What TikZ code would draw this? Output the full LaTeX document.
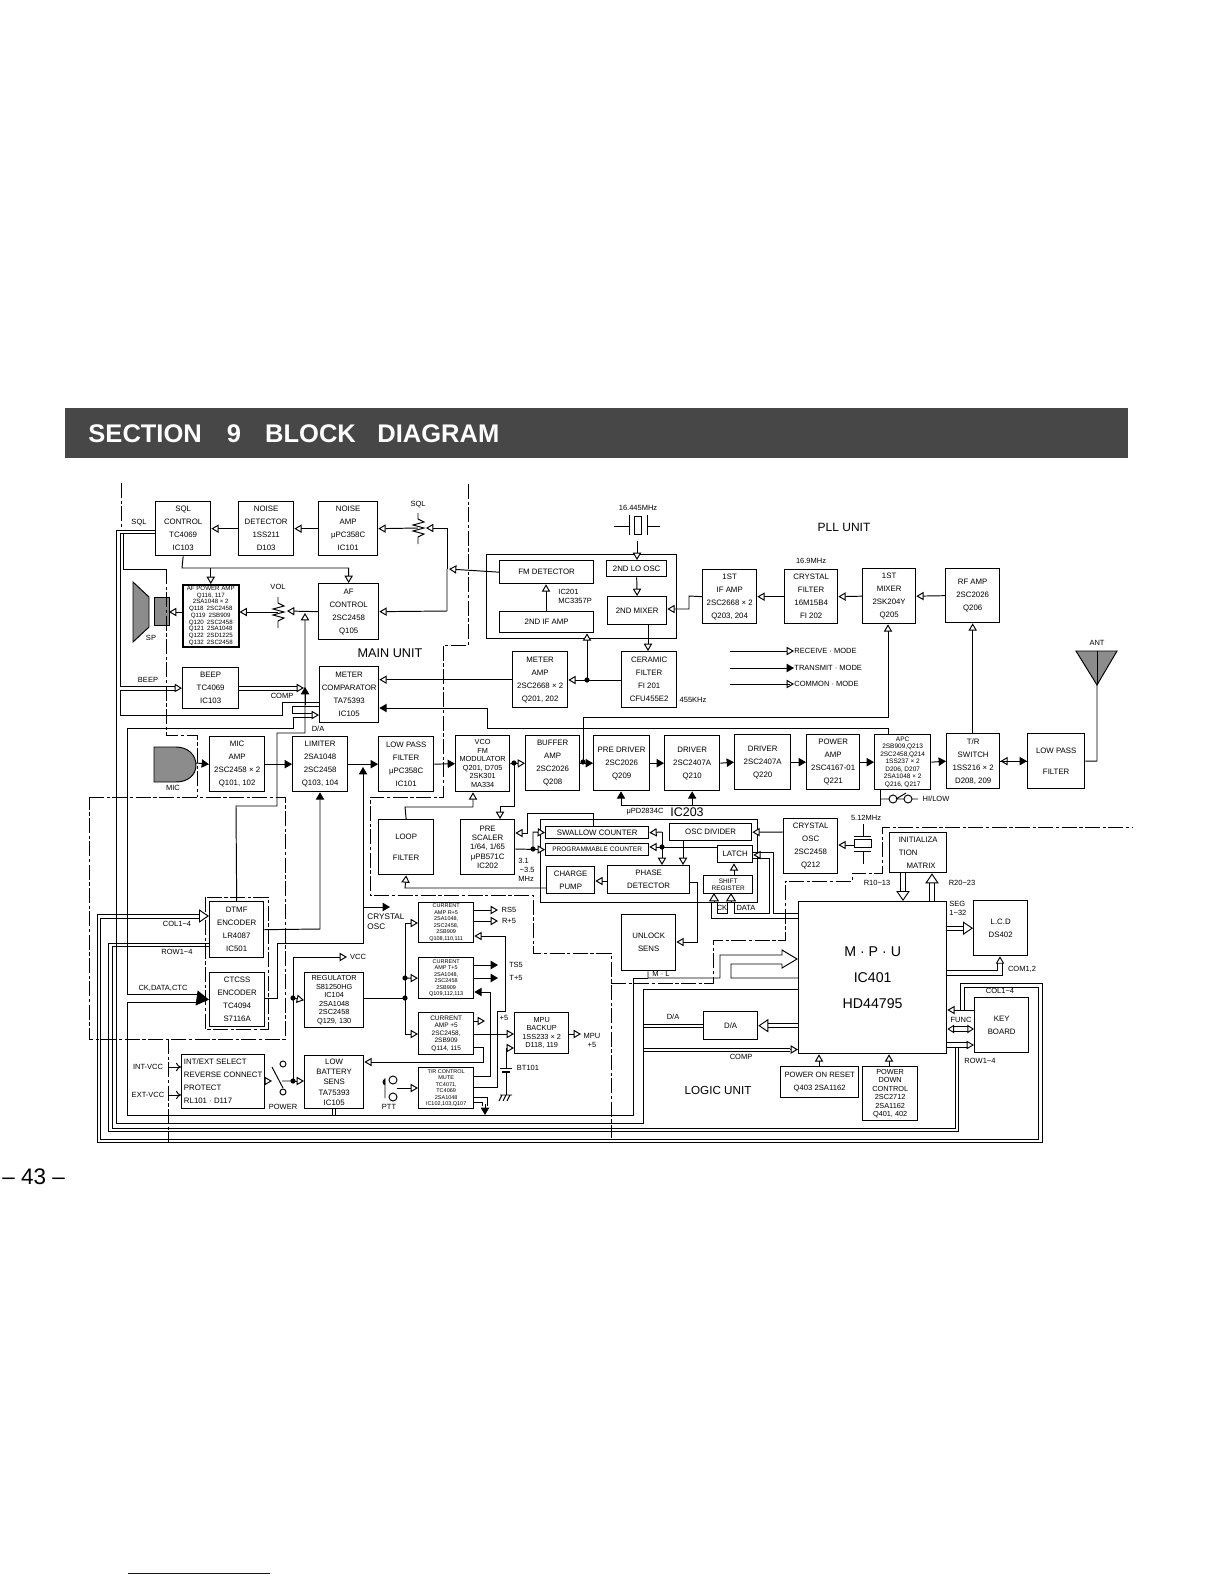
\documentclass[tikz,border=0pt]{standalone}
\usepackage{fontspec}
\setmainfont{Liberation Sans}
\usetikzlibrary{arrows.meta}
\newcommand{\tld}{\textasciitilde}
\tikzset{
  blk/.style 2 args={draw,line width=.8pt,anchor=north west,inner sep=0pt,align=center,minimum width=#1*0.6pt,minimum height=#2*0.6pt,fa},
  fa/.style={font=\fontsize{4.7}{7.8}\selectfont},
  fb/.style={font=\fontsize{4.4}{5.1}\selectfont},
  fc/.style={font=\fontsize{3.9}{4.5}\selectfont},
  fd/.style={font=\fontsize{3.3}{3.9}\selectfont},
  lbl/.style={inner sep=0pt,font=\fontsize{4.5}{5.4}\selectfont,align=left},
  big/.style={inner sep=0pt,font=\fontsize{#1}{#1}\selectfont},
  hol/.style={-{Triangle[open,length=4.4pt,width=5pt,fill=white]}},
  sol/.style={-{Triangle[length=4.4pt,width=5pt]}},
  solb/.style={-{Triangle[length=7.5pt,width=9pt]}},
  bar/.style={-{Triangle[open,length=6pt,width=8pt,fill=white]}},
  dbl/.style={double,double distance=2pt,line width=.55pt},
  dsh/.style={dash pattern=on 9pt off 1.5pt on 2pt off 1.5pt,line width=.58pt},
  pot/.pic={\draw (0,-15)--(0,-9)--(6,-6)--(-5,-3)--(6,0)--(-5,3)--(6,6)--(0,9)--(0,16);},
}
\begin{document}
\begin{tikzpicture}[x=0.6pt,y=-0.6pt,line width=.58pt]
  \useasboundingbox (0,0) rectangle (1224,1584);
  % title bar and page marks
  \node[fill=black!72,anchor=north west,minimum width=1063*0.6pt,minimum height=50*0.6pt,inner sep=0pt] (titlebar) at (65,408) {};
  \node[anchor=west,inner sep=0pt,text=white,font=\bfseries\fontsize{15.3}{16}\selectfont] (title) at (88,434) {SECTION\hspace{15pt}9\hspace{14.5pt}BLOCK\hspace{13pt}DIAGRAM};
  \node[inner sep=0pt,anchor=west,font=\fontsize{13.5}{15}\selectfont] (pagenum) at (2,1177) {-- 43 --};
  \draw[blue!70!black,line width=.5pt] (128,1573) -- (270,1573);

  % main unit
  \node[blk={55}{54}] (sqlc) at (155,501) {SQL\\CONTROL\\TC4069\\IC103};
  \node[blk={55}{54}] (nsdet) at (238,501) {NOISE\\DETECTOR\\1SS211\\D103};
  \node[blk={59}{54}] (nsamp) at (318,501) {NOISE\\AMP\\μPC358C\\IC101};
  \node[blk={56}{62},font=\fontsize{3.7}{4.05}\selectfont,line width=.9pt] (afpwr) at (182,584) {AF POWER AMP\\Q116, 117\\2SA1048 × 2\\Q118\enspace 2SC2458\\Q119\enspace 2SB909\\Q120\enspace 2SC2458\\Q121\enspace 2SA1048\\Q122\enspace 2SD1225\\Q132\enspace 2SC2458};
  \node[blk={60}{56}] (afc) at (318,583) {AF\\CONTROL\\2SC2458\\Q105};
  \node[blk={56}{41}] (beep) at (182,667) {BEEP\\TC4069\\IC103};
  \node[blk={59}{56}] (metc) at (319,666) {METER\\COMPARATOR\\TA75393\\IC105};
  \node[blk={55}{55}] (micamp) at (209,736) {MIC\\AMP\\2SC2458 × 2\\Q101, 102};
  \node[blk={55}{55}] (lim) at (292,736) {LIMITER\\2SA1048\\2SC2458\\Q103, 104};
  \node[blk={55}{55}] (lpfa) at (378,736) {LOW PASS\\FILTER\\μPC358C\\IC101};
  \node[blk={54}{56},fb] (vco) at (455,735) {VCO\\FM\\MODULATOR\\Q201, D705\\2SK301\\MA334};
  \node[blk={54}{55}] (buf) at (525,735) {BUFFER\\AMP\\2SC2026\\Q208};
  \node[blk={56}{55}] (predrv) at (593,735) {PRE DRIVER\\2SC2026\\Q209};
  \node[blk={55}{55}] (drva) at (664,735) {DRIVER\\2SC2407A\\Q210};
  \node[blk={56}{55}] (drvb) at (734,734) {DRIVER\\2SC2407A\\Q220};
  \node[blk={53}{55}] (pamp) at (806,734) {POWER\\AMP\\2SC4167-01\\Q221};
  \node[blk={56}{55},fc] (apc) at (874,734) {APC\\2SB909,Q213\\2SC2458,Q214\\1SS237 × 2\\D206, D207\\2SA1048 × 2\\Q216, Q217};
  \node[blk={53}{55}] (trsw) at (946,733) {T/R\\SWITCH\\1SS216 × 2\\D208, 209};
  \node[blk={57}{55}] (lpfb) at (1027,733) {LOW PASS\\[5pt]FILTER};

  % receiver and pll
  \node[draw,anchor=north west,inner sep=0pt,minimum width=190*0.6pt,minimum height=84*0.6pt] (ifbox) at (486,554) {};
  \node[blk={94}{23}] (fmdet) at (499,560) {FM DETECTOR};
  \node[blk={60}{16}] (loosc) at (606,560) {2ND LO OSC};
  \node[blk={59}{28}] (mixb) at (607,596) {2ND MIXER};
  \node[blk={94}{21}] (ifamp) at (499,611) {2ND IF AMP};
  \node[blk={54}{54}] (ifa) at (702,569) {1ST\\IF AMP\\2SC2668 × 2\\Q203, 204};
  \node[blk={53}{54}] (xtal) at (784,569) {CRYSTAL\\FILTER\\16M15B4\\FI 202};
  \node[blk={53}{55}] (mixa) at (862,568) {1ST\\MIXER\\2SK204Y\\Q205};
  \node[blk={54}{54}] (rfamp) at (945,568) {RF AMP\\2SC2026\\Q206};
  \node[blk={55}{56}] (metamp) at (512,651) {METER\\AMP\\2SC2668 × 2\\Q201, 202};
  \node[blk={55}{56}] (cer) at (621,651) {CERAMIC\\FILTER\\FI 201\\CFU455E2};
  \node[blk={55}{55}] (loopf) at (378,819) {LOOP\\[5pt]FILTER};
  \node[blk={54}{55},font=\fontsize{4.7}{5.6}\selectfont] (presc) at (460,819) {PRE\\SCALER\\1/64, 1/65\\μPB571C\\IC202};
  \node[draw,anchor=north west,inner sep=0pt,minimum width=217*0.6pt,minimum height=83*0.6pt] (pllic) at (540,819) {};
  \node[blk={103}{12}] (swc) at (545,826) {SWALLOW COUNTER};
  \node[blk={103}{12},fc] (prg) at (545,843) {PROGRAMMABLE COUNTER};
  \node[blk={82}{17}] (oscd) at (669,823) {OSC DIVIDER};
  \node[blk={35}{17}] (latch) at (717,845) {LATCH};
  \node[blk={48}{27}] (cpump) at (546,866) {CHARGE\\PUMP};
  \node[blk={82}{28}] (pdet) at (607,865) {PHASE\\DETECTOR};
  \node[blk={49}{18},fc] (shreg) at (703,875) {SHIFT\\REGISTER};
  \node[blk={54}{55}] (xosc) at (783,818) {CRYSTAL\\OSC\\2SC2458\\Q212};

  % power and encoders
  \node[blk={54}{56}] (dtmf) at (209,901) {DTMF\\ENCODER\\LR4087\\IC501};
  \node[blk={55}{54}] (ctcss) at (209,972) {CTCSS\\ENCODER\\TC4094\\S7116A};
  \node[blk={83}{54},align=left] (intx) at (181,1054) {INT/EXT SELECT\\REVERSE CONNECT\\PROTECT\\RL101 · D117};
  \node[blk={59}{55},fb] (reg) at (304,972) {REGULATOR\\S81250HG\\IC104\\2SA1048\\2SC2458\\Q129, 130};
  \node[blk={59}{53},font=\fontsize{4.7}{6.1}\selectfont] (lowb) at (304,1055) {LOW\\BATTERY\\SENS\\TA75393\\IC105};
  \node[blk={55}{40},fd] (cura) at (418,902) {CURRENT\\AMP R+5\\2SA1048,\\2SC2458,\\2SB909\\Q108,110,111};
  \node[blk={55}{41},fd] (curb) at (418,957) {CURRENT\\AMP T+5\\2SA1048,\\2SC2458\\2SB909\\Q109,112,113};
  \node[blk={55}{42},fc] (curc) at (418,1012) {CURRENT\\AMP +5\\2SC2458,\\2SB909\\Q114, 115};
  \node[blk={55}{41},fd] (trc) at (418,1067) {T/R CONTROL\\MUTE\\TC4071,\\TC4069\\2SA1048\\IC102,103,Q107};
  \node[blk={54}{41},fb] (mbak) at (514,1012) {MPU\\BACKUP\\1SS233 × 2\\D118, 119};

  % logic unit
  \node[blk={54}{56}] (unl) at (621,914) {UNLOCK\\SENS};
  \node[blk={54}{28}] (dac) at (703,1011) {D/A};
  \node[blk={148}{152},font=\fontsize{8.5}{15.5}\selectfont] (mpu) at (798,901) {M · P · U\\IC401\\HD44795};
  \node[blk={57}{40},align=left] (init) at (889,832) {INITIALIZA\\TION\\\enspace\enspace MATRIX};
  \node[blk={54}{55}] (lcd) at (973,900) {L.C.D\\DS402};
  \node[blk={54}{55}] (keyb) at (974,997) {KEY\\BOARD};
  \node[blk={78}{31},font=\fontsize{4.6}{7.8}\selectfont] (pwron) at (780,1066) {POWER ON RESET\\Q403 2SA1162};
  \node[blk={55}{54},fb] (pwrd) at (862,1066) {POWER\\DOWN\\CONTROL\\2SC2712\\2SA1162\\Q401, 402};

  % speaker, mic, antenna, crystals
  \draw[fill=black!45] (133,582) -- (149,597) -- (149,627) -- (133,642) -- cycle;
  \draw[fill=black!45] (154,597) rectangle (169,625);
  \coordinate (spk) at (169,612);
  \draw[fill=black!45] (154,747) -- (176,747) .. controls (188,747) and (196,755) .. (196,765) .. controls (196,775) and (188,782) .. (176,782) -- (154,782) -- cycle;
  \coordinate (mic) at (196,763);
  \draw[fill=black!45] (1076,651) -- (1117,651) -- (1097,685) -- cycle;
  \draw (1097,651) -- (1097,685);
  \coordinate (ant) at (1097,685);
  \pic at (418,528) {pot};
  \coordinate (sqlpot) at (418,528);
  \pic at (278,612) {pot};
  \coordinate (volpot) at (278,612);
  \draw (614,526) -- (629,526) (629,515) -- (629,535) (647,515) -- (647,535) (647,526) -- (660,526);
  \draw (634,516) rectangle (641,534);
  \coordinate (xa) at (637,541);
  \draw (863,824) -- (863,836) (854,836) -- (871,836) (854,851) -- (871,851) (863,851) -- (863,864);
  \draw (854,839) rectangle (871,847);
  \coordinate (xb) at (854,845);

  % unit boundaries
  \draw[dsh] (121,483) -- (121,530);
  \draw[dsh] (166,569) -- (166,735) -- (197,735) -- (197,797);
  \draw[dsh] (89,797) -- (285,797) -- (285,1039) -- (89,1039) -- cycle;
  \draw[dsh] (168,1039) -- (168,1142);
  \draw[dsh] (205,897) rectangle (268,1029);
  \draw[dsh] (468,484) -- (468,645) -- (443,645) -- (443,797) -- (370,797) -- (370,895) -- (533,895) -- (533,953) -- (611,953) -- (611,1138);
  \draw[dsh] (611,983) -- (713,983) -- (713,940) -- (785,940) -- (785,881) -- (852,881) -- (852,873) -- (882,873) -- (882,827) -- (1133,827);

  % audio path
  \draw[hol] (nsdet.west) -- (sqlc.east);
  \draw[hol] (nsamp.west) -- (nsdet.east);
  \draw[hol] (sqlpot) -- (nsamp.east);
  \draw[hol] (fmdet.west) -- (449,569);
  \draw[hol] (447,569) -- (447,528) -- (426,528);
  \draw[hol] (447,569) -- (447,611) -- (afc.east);
  \draw[hol] (sqlc.south) -- (182,568) -| (afc.north);
  \draw[hol] (afpwr.north |- 0,568) -- (afpwr.north);
  \draw[hol] (afc.west) -- (287,611);
  \draw[hol] (volpot) -- (afpwr.east |- volpot);
  \draw[hol] (afpwr.west |- volpot) -- (spk);
  \draw[hol] (dtmf.north) -- (236,806) -- (277,806) -- (277,733) -- (305,733) -- (305,613);
  \draw[sol] (305,705) -- (305,687);
  \draw (beep.east |- 0,686) -- (297,686);
  \draw (beep.east |- 0,690) -- (297,690);
  \draw[hol] (297,688) -- (304,688);
  \draw (sqlc.west |- 0,530) -- (116,530) -- (116,1123) -- (643,1123) -- (643,989) -- (mpu.west |- 0,989);
  \draw (sqlc.west |- 0,533) -- (120,533) -- (120,686) -- (176,686);
  \draw (metc.west |- 0,702) -- (282,702) -- (282,715) -- (120,715) -- (120,690) -- (176,690);
  \draw[hol] (176,688) -- (beep.west);
  \draw (123,533) -- (123,569) -- (166,569);
  \draw (metc.west |- 0,706) -- (292,706) -- (292,713) -- (312,713);
  \draw (312,717) -- (293,717) -- (293,728) -- (127,728) -- (127,994) -- (197,994);
  \draw[hol] (312,715) -- (metc.west |- 0,715);
  \draw[solb] (197,998) -- (ctcss.west);
  \draw (197,1002) -- (127,1002) -- (127,1115) -- (633,1115) -- (633,978) -- (648,978);
  \draw (332,1108) -- (332,1115) (335,1108) -- (335,1115);
  \draw[hol] (metamp.west) -- (metc.east |- metamp.west);
  \draw[sol] (apc.north -| 888,0) -- (888,728) -- (487,728) -- (487,708) -- (metc.east |- 0,708);

  % tx chain
  \draw[sol] (mic) -- (micamp.west);
  \draw[sol] (micamp.east) -- (lim.west);
  \draw[sol] (lim.east) -- (lpfa.west);
  \draw[sol] (lpfa.east) -- (vco.west);
  \draw[hol] (vco.east) -- (buf.west);
  \fill (514,763) circle (2.6);
  \draw[sol] (buf.east) -- (predrv.west);
  \fill (583,762) circle (2.6);
  \draw[sol] (predrv.east) -- (drva.west);
  \draw[sol] (drva.east) -- (drvb.west);
  \draw[sol] (drvb.east) -- (pamp.west);
  \draw[sol] (pamp.east) -- (apc.west);
  \draw[sol] (apc.east) -- (trsw.west);
  \draw[hol] (lpfb.west) -- (trsw.east);
  \draw[sol] (trsw.east) -- (lpfb.west);
  \draw (lpfb.east) -- (1097,761) -- (ant);
  \draw[hol] (trsw.north) -- (rfamp.south |- trsw.north) -- (rfamp.south);
  \draw[hol] (rfamp.west) -- (mixa.east);
  \draw[hol] (583,762) -- (583,717) -- (888,717) -- (mixa.south -| 888,0);
  \draw[sol] (apc.south -| 880,0) -- (880,805) -- (621,805) -- (predrv.south -| 621,0);
  \draw[sol] (drva.south |- 0,805) -- (drva.south);
  \draw (880,799) -- (889,799) (897,799) -- (904,799) (912,799) -- (918,799) (896,799) -- (906,793);
  \draw (893,799) circle (4) (908,799) circle (4);
  \node[lbl] (hilow) at (936,799) {HI/LOW};

  % rx if
  \draw[hol] (637,541) -- (loosc.north -| 637,0);
  \draw[hol] (loosc.south) -- (mixb.north);
  \draw[hol] (mixb.south -| 648,0) -- (cer.north -| 648,0);
  \draw[hol] (ifamp.north -| 546,0) -- (fmdet.south -| 546,0);
  \draw[hol] (cer.west |- 0,680) -- (metamp.east |- 0,680);
  \fill (587,680) circle (2.6);
  \draw[hol] (587,680) -- (ifamp.south -| 587,0);
  \draw[hol] (ifa.west) -- (689,596) -- (689,609) -- (mixb.east |- 0,609);
  \draw[hol] (xtal.west) -- (ifa.east);
  \draw[hol] (mixa.west) -- (xtal.east);

  % legend
  \coordinate (lga) at (730,651);
  \coordinate (lgb) at (730,668);
  \coordinate (lgc) at (730,684);
  \node[lbl,anchor=west] (lgrx) at (794,651) {RECEIVE · MODE};
  \node[lbl,anchor=west] (lgtx) at (794,668) {TRANSMIT · MODE};
  \node[lbl,anchor=west] (lgcm) at (794,684) {COMMON · MODE};
  \draw[hol] (lga) -- (lgrx.west);
  \draw[sol] (lgb) -- (lgtx.west);
  \draw[hol] (lgc) -- (lgcm.west);
  \draw (lgc) -- (790,684);

  % pll wiring
  \draw[hol] (514,763) -- (514,806) -- (500,806) -- (presc.north -| 500,0);
  \draw[hol] (loopf.north) -- (405,807) -- (473,807) -- (vco.south -| 473,0);
  \draw[hol] (cpump.west |- 0,888) -- (405,888) -- (loopf.south);
  \draw[hol] (swc.north -| 593,0) -- (593,813) -- (527,813) -- (527,833) -- (presc.east |- 0,833);
  \draw[hol] (presc.east |- 0,849) -- (prg.west);
  \fill (533,849) circle (2.6);
  \draw[hol] (533,849) -- (533,832) -- (swc.west);
  \draw[hol] (latch.west |- 0,847) -- (prg.east |- 0,847);
  \fill (662,847) circle (2.6);
  \draw[hol] (662,832) -- (swc.east);
  \draw[hol] (662,832) -- (662,865);
  \draw[hol] (oscd.south -| 683,0) -- (pdet.north -| 683,0);
  \draw[hol] (pdet.west |- 0,881) -- (cpump.east |- 0,881);
  \draw[hol] (xosc.west |- 0,832) -- (oscd.east);
  \draw[hol] (xb) -- (xosc.east |- xb);
  \draw[hol] (shreg.north -| 734,0) -- (latch.south -| 734,0);
  \draw[hol] (pdet.east |- 0,882) -- (697,882) -- (697,942) -- (unl.east |- 0,942);
  \draw (752,852) -- (773,852) -- (773,913) -- (mpu.west |- 0,913);
  \draw (752,858) -- (769,858) -- (769,913) -- (734,913) -- (734,902);
  \draw[hol] (758,855) -- (latch.east |- 0,855);
  \draw (mpu.west |- 0,918) -- (711,918) -- (711,902);
  \draw (717,902) -- (717,913) -- (727,913) -- (727,902);
  \draw[-{Triangle[open,length=5pt,width=6pt,fill=white]}] (714,902) -- (714,893);
  \draw[-{Triangle[open,length=5pt,width=6pt,fill=white]}] (731,902) -- (731,893);

  % encoder and power wiring
  \draw[sol] (dtmf.east) -- (320,929) -- (lim.south -| 320,0);
  \draw[sol] (ctcss.east |- 0,998) -- (277,998) -- (277,943) -- (363,943) -- (363,767);
  \draw[sol] (363,907) -- (390,907);
  \draw (199,914) -- (97,914) -- (97,1142) -- (1042,1142) -- (1042,983) -- (960,983) -- (960,1010);
  \draw (199,918) -- (100,918) -- (100,1139) -- (1038,1139) -- (1038,987) -- (964,987) -- (964,1010);
  \draw[bar] (199,916) -- (dtmf.west |- 0,916);
  \draw (dtmf.west |- 0,943) -- (108,943) -- (108,1131) -- (958,1131) -- (958,1047);
  \draw (dtmf.west |- 0,946) -- (112,946) -- (112,1128) -- (955,1128) -- (955,1047);
  \draw[-{To[length=3pt,width=5pt]}] (169,1067) -- (intx.west |- 0,1067);
  \draw[-{To[length=3pt,width=5pt]}] (169,1095) -- (intx.west |- 0,1095);
  \draw[hol] (intx.east |- 0,1081) -- (272,1081);
  \draw (272,1067) -- (283,1088) (282,1081) -- (293,1081);
  \draw (283,1064) circle (3) (283,1092) circle (3);
  \node[lbl] (lpower) at (283,1107) {POWER};
  \draw[hol] (293,1081) -- (lowb.west |- 0,1081);
  \draw[hol] (293,1081) -- (293,957) -- (347,957);
  \draw[hol] (293,998) -- (reg.west);
  \fill (293,998) circle (2.6) (293,1081) circle (2.6);
  \draw (reg.east |- 0,998) -- (405,998);
  \draw[hol] (405,998) -- (405,923) -- (cura.west |- 0,923);
  \draw[hol] (405,978) -- (curb.west);
  \draw[hol] (405,998) -- (405,1034) -- (curc.west |- 0,1034);
  \fill (405,978) circle (2.6) (405,998) circle (2.6);
  \draw[hol] (cura.east |- 0,910) -- (498,910);
  \draw[hol] (cura.east |- 0,921) -- (498,921);
  \draw[sol] (curb.east |- 0,965) -- (498,965);
  \draw[sol] (curb.east |- 0,978) -- (498,978);
  \draw[hol] (curc.east |- 0,1021) -- (485,1021);
  \draw[hol] (curc.east |- 0,1034) -- (mbak.west |- 0,1034);
  \draw[hol] (mbak.east |- 0,1034) -- (581,1034);
  \draw[hol] (curc.east |- 0,1047) -- (483,1047) -- (483,1062) -- (lowb.east |- 0,1062);
  \draw[sol] (trc.east |- 0,1076) -- (490,1076) -- (490,992) -- (curb.east |- 0,992);
  \draw[hol] (trc.east |- 0,1087) -- (497,1087) -- (497,1011) -- (505,1011) -- (505,936) -- (cura.east |- 0,936);
  \draw[dbl] (trc.east |- 0,1100) -- (485,1100) -- (485,1106);
  \draw[sol] (485,1104) -- (485,1115);
  \draw[hol] (506,1068) -- (506,1048) -- (mbak.west |- 0,1048);
  \draw (506,1072) -- (506,1095) (500,1068) -- (512,1068);
  \draw[line width=1pt] (502,1072) -- (510,1072);
  \draw (500,1095) -- (512,1095) (502,1095) -- (499,1101) (506,1095) -- (503,1101) (510,1095) -- (507,1101);
  \draw (393,1080) circle (4) (393,1097) circle (4) (385,1078) -- (385,1098);
  \fill (385,1085) arc (90:270:2.5 and 3) -- cycle;
  \draw[hol] (397,1088) -- (trc.west |- 0,1088);
  \coordinate (ptt) at (397,1088);

  % mpu wiring
  \draw (unl.south -| 648,0) -- (648,978) -- (720,978) -- (720,955) -- (782,955) -- (782,950) -- (797,959) -- (782,968) -- (782,964) -- (731,964) -- (731,978) -- (mpu.west |- 0,978);
  \draw (643,1024) -- (dac.west |- 0,1024) (643,1027) -- (dac.west |- 0,1027);
  \draw (643,1048) -- (790,1048) (643,1051) -- (790,1051);
  \draw[hol] (790,1049.5) -- (mpu.west |- 0,1049.5);
  \draw[dbl,bar] (mpu.west |- dac.east) -- (dac.east);
  \draw[dbl,bar] (init.south -| 903,0) -- (mpu.north -| 903,0);
  \draw[dbl,bar] (mpu.north -| 932,0) -- (init.south -| 932,0);
  \draw[dbl,bar] (mpu.east |- lcd.west) -- (lcd.west);
  \draw[dbl,hol] (mpu.east |- 0,973) -- (1000,973) -- (lcd.south -| 1000,0);
  \draw[hol] (keyb.west |- 0,1010) -- (mpu.east |- 0,1010);
  \draw[dbl,{Triangle[open,length=4pt,width=5pt,fill=white]}-{Triangle[open,length=4pt,width=5pt,fill=white]}] (mpu.east |- 0,1029) -- (keyb.west |- 0,1029);
  \draw[dbl,hol] (mpu.east |- 0,1045) -- (keyb.west |- 0,1045);
  \draw[hol] (pwron.north -| 819,0) -- (mpu.south -| 819,0);
  \draw[hol] (pwrd.north -| 889,0) -- (mpu.south -| 889,0);

  % labels
  \node[lbl] (lsqla) at (418,505) {SQL};
  \node[lbl] (lsqlb) at (139,523) {SQL};
  \node[lbl] (lvol) at (278,587) {VOL};
  \node[lbl] (lsp) at (151,638) {SP};
  \node[big=7.6] (lmain) at (390,653) {MAIN UNIT};
  \node[lbl] (lbeep) at (148,680) {BEEP};
  \node[lbl] (lcomp) at (282,696) {COMP};
  \node[lbl] (lda) at (318,729) {D/A};
  \node[lbl] (lmic) at (173,788) {MIC};
  \node[lbl] (lxa) at (638,508) {16.445MHz};
  \node[big=7.2] (lpll) at (844,527) {PLL UNIT};
  \node[lbl] (lxf) at (811,561) {16.9MHz};
  \node[lbl,anchor=west] (lic) at (558,596) {IC201\\MC3357P};
  \node[lbl] (lant) at (1097,643) {ANT};
  \node[lbl] (lkhz) at (693,700) {455KHz};
  \node[lbl] (lpd) at (645,812) {μPD2834C};
  \node[big=7.5] (lic203) at (687,812) {IC203};
  \node[lbl,anchor=west] (lmhz) at (518,870) {3.1\\\,\tld 3.5\\MHz};
  \node[lbl] (lxb) at (866,818) {5.12MHz};
  \node[lbl] (lck) at (722,908) {CK};
  \node[lbl] (ldata) at (746,908) {DATA};
  \node[lbl] (lcol) at (177,924) {COL1\tld 4};
  \node[lbl] (lrow) at (177,952) {ROW1\tld 4};
  \node[lbl] (lckd) at (163,988) {CK,DATA,CTC};
  \node[lbl] (lint) at (148,1067) {INT-VCC};
  \node[lbl] (lext) at (148,1095) {EXT-VCC};
  \node[lbl,anchor=west,font=\fontsize{4.9}{5.9}\selectfont] (lcrys) at (367,922) {CRYSTAL\\OSC};
  \node[lbl] (lvcc) at (358,957) {VCC};
  \node[lbl] (lrs) at (509,910) {RS5};
  \node[lbl] (lrp) at (509,921) {R+5};
  \node[lbl] (lts) at (516,965) {TS5};
  \node[lbl] (ltp) at (516,978) {T+5};
  \node[lbl] (lpfive) at (504,1018) {+5};
  \node[lbl,align=center] (lmpu) at (592,1040) {MPU\\+5};
  \node[lbl] (lbt) at (528,1068) {BT101};
  \node[lbl] (lptt) at (389,1107) {PTT};
  \node[lbl] (lml) at (661,974) {M · L};
  \node[lbl] (lda2) at (673,1017) {D/A};
  \node[lbl] (lcompb) at (741,1057) {COMP};
  \node[big=7] (llog) at (718,1090) {LOGIC UNIT};
  \node[lbl] (lra) at (877,883) {R10\tld 13};
  \node[lbl] (lrb) at (962,883) {R20\tld 23};
  \node[lbl,anchor=west] (lseg) at (949,908) {SEG\\1\tld 32};
  \node[lbl] (lcom) at (1022,969) {COM1,2};
  \node[lbl] (lcolb) at (1000,991) {COL1\tld 4};
  \node[lbl] (lfunc) at (961,1020) {FUNC};
  \node[lbl] (lrowb) at (980,1061) {ROW1\tld 4};
\end{tikzpicture}
\end{document}
